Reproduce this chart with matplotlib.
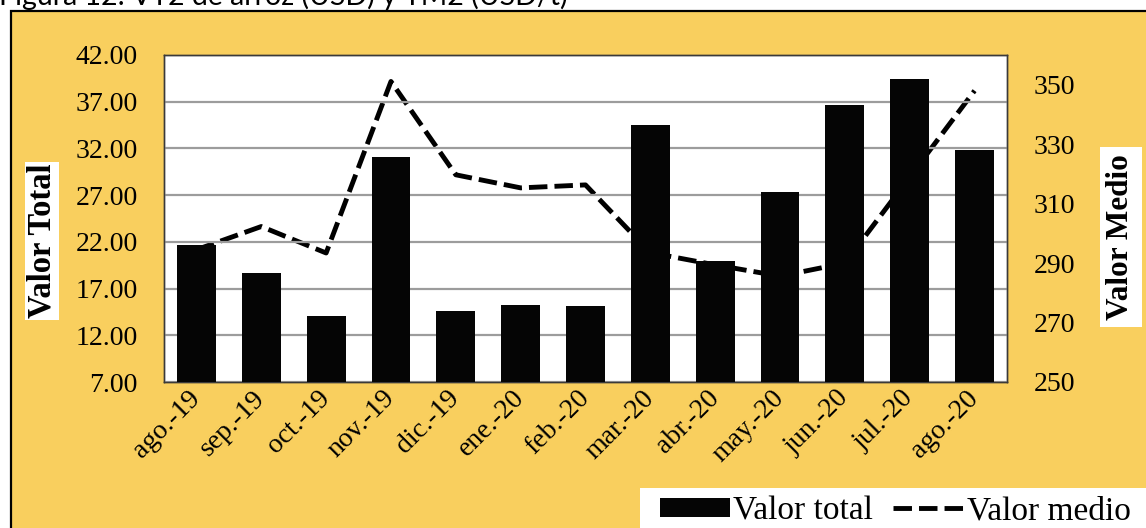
import matplotlib
matplotlib.use("Agg")
import matplotlib.pyplot as plt
from matplotlib.patches import Rectangle
from matplotlib.ticker import FixedLocator, FormatStrFormatter

# ---- data ----
months = ["ago.-19", "sep.-19", "oct.-19", "nov.-19", "dic.-19", "ene.-20", "feb.-20",
          "mar.-20", "abr.-20", "may.-20", "jun.-20", "jul.-20", "ago.-20"]
valor_total = [21.7, 18.7, 14.1, 31.1, 14.6, 15.2, 15.1, 34.5, 19.95, 27.3, 36.6, 39.4, 31.8]
valor_medio = [294.5, 302.3, 293.4, 351.1, 319.7, 315.3, 316.3, 293.5, 289.4, 285.6, 290.0, 319.0, 348.0]
left_ticks = [7, 12, 17, 22, 27, 32, 37, 42]
right_ticks = [250, 270, 290, 310, 330, 350]
caption = "Figura 12: VT2 de arroz (USD) y TM2 (USD/t)"

W, H = 1146, 528
ORANGE = "#F9CF5E"
SERIF = "Liberation Serif"

fig = plt.figure(figsize=(W / 100, H / 100), dpi=100)
fig.patch.set_facecolor("white")

def fx(px):
    return px / W

def fy(py):
    return 1 - py / H

# orange panel with black border (left & top visible)
fig.add_artist(Rectangle((fx(10.5), fy(540)), fx(1200), (540 - 10.5) / H,
                         transform=fig.transFigure, facecolor=ORANGE,
                         edgecolor="black", linewidth=1.6, zorder=0))

# partially clipped caption at the very top (as in the reference)
fig.text(fx(-1), fy(5), caption, fontsize=20.5, family="Lato", color="black",
         ha="left", va="baseline", zorder=1)

# axes
ax = fig.add_axes([fx(164), fy(382), fx(1007) - fx(164), fy(55) - fy(382)])
ax2 = ax.twinx()
ax.set_zorder(ax2.get_zorder() + 1)
ax.patch.set_visible(False)
ax2.patch.set_visible(True)
ax2.patch.set_facecolor("white")

x = list(range(len(months)))
bars = ax.bar(x, valor_total, width=0.6, color="#050505", zorder=3, label="Valor total")
line, = ax2.plot(x, valor_medio, color="black", linewidth=3.5, linestyle="--",
                 dashes=(3.8, 1.45), dash_capstyle="butt", label="Valor medio", zorder=2)

ax.set_xlim(-0.5, len(months) - 0.5)
ax.set_ylim(7, 42)
ax2.set_ylim(250, 360)
ax.yaxis.set_major_locator(FixedLocator(left_ticks))
ax.yaxis.set_major_formatter(FormatStrFormatter("%.2f"))
ax2.yaxis.set_major_locator(FixedLocator(right_ticks))

ax.set_axisbelow(True)
ax.yaxis.grid(True, color="#9c9c9c", linewidth=1.6)
ax.xaxis.grid(False)

ax.set_xticks(x)
ax.set_xticklabels(months, rotation=45, ha="right", va="center",
                   rotation_mode="anchor", family=SERIF, fontsize=20)
for lab in ax.get_yticklabels():
    lab.set_family(SERIF)
    lab.set_fontsize(20)
for lab in ax2.get_yticklabels():
    lab.set_family(SERIF)
    lab.set_fontsize(20)

ax.tick_params(axis="both", length=0)
ax.tick_params(axis="y", pad=19)
ax.tick_params(axis="x", pad=9)
ax2.tick_params(axis="y", length=0, pad=19)

for a in (ax, ax2):
    for s in a.spines.values():
        s.set_color("#3a3a3a")
        s.set_linewidth(1.0)

# axis titles in white boxes
fig.text(fx(42), fy(241), "Valor Total", rotation=90, ha="center", va="center",
         family=SERIF, fontweight="bold", fontsize=23.5,
         bbox=dict(facecolor="white", edgecolor="none", pad=1.0))
fig.text(fx(1121), fy(237), "Valor Medio", rotation=90, ha="center", va="center",
         family=SERIF, fontweight="bold", fontsize=22.5,
         bbox=dict(facecolor="white", edgecolor="none", pad=5))

# legend area
fig.add_artist(Rectangle((fx(640), fy(560)), fx(600), (560 - 488) / H,
                         transform=fig.transFigure, facecolor="white",
                         edgecolor="none", zorder=1))
leg = fig.legend([bars, line], ["Valor total", "Valor medio"], loc="center left",
                 bbox_to_anchor=(fx(660), fy(511)), ncol=2, frameon=False,
                 prop=dict(family=SERIF, size=24), handlelength=2.1,
                 handleheight=0.54, handletextpad=0.1, columnspacing=0.6,
                 borderpad=0, borderaxespad=0)
leg.set_zorder(5)

fig.savefig("out.png", dpi=100, facecolor=fig.get_facecolor())
